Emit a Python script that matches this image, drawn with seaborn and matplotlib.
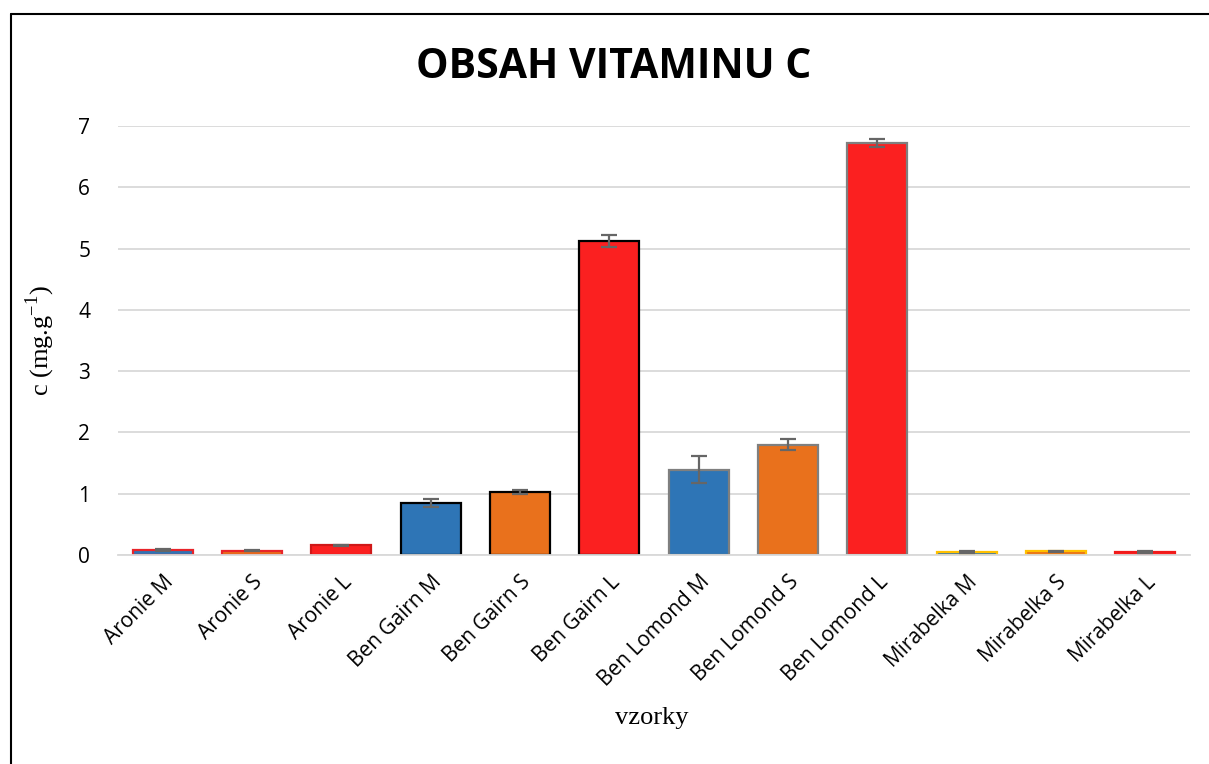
import matplotlib
matplotlib.use("Agg")
import matplotlib.pyplot as plt
from matplotlib.lines import Line2D
import seaborn as sns
import pandas as pd

# Vitamin C content per sample (mg/g) with standard deviations
samples = ["Aronie M", "Aronie S", "Aronie L",
           "Ben Gairn M", "Ben Gairn S", "Ben Gairn L",
           "Ben Lomond M", "Ben Lomond S", "Ben Lomond L",
           "Mirabelka M", "Mirabelka S", "Mirabelka L"]
values = [0.08, 0.07, 0.16, 0.85, 1.03, 5.12, 1.39, 1.80, 6.72, 0.05, 0.06, 0.05]
errors = [0.01, 0.01, 0.01, 0.06, 0.03, 0.10, 0.22, 0.09, 0.07, 0.01, 0.01, 0.01]

BLUE = "#2E75B6"
ORANGE = "#E9711C"
RED = "#FB2020"
fills = [BLUE, ORANGE, RED] * 4
edges = ["#E8242A", "#E8242A", "#D01818",
         "#000000", "#000000", "#000000",
         "#7F7F7F", "#7F7F7F", "#7F7F7F",
         "#FFC000", "#FFC000", "#F01A1A"]

df = pd.DataFrame({"vzorek": samples, "c": values})

sns.set_theme(style="white")
plt.rcParams["mathtext.fontset"] = "custom"
plt.rcParams["mathtext.rm"] = "Liberation Serif"
plt.rcParams["text.color"] = "black"

fig = plt.figure(figsize=(12.09, 7.64), dpi=100)
ax = fig.add_axes([118 / 1209, 1 - 555 / 764, (1190 - 118) / 1209, (555 - 126) / 764])

sns.barplot(data=df, x="vzorek", y="c", hue="vzorek", palette=fills,
            legend=False, width=0.67, ax=ax, errorbar=None, saturation=1)

for patch, ec in zip(ax.patches, edges):
    patch.set_edgecolor(ec)
    patch.set_linewidth(1.6)

ax.errorbar(range(len(samples)), values, yerr=errors, fmt="none",
            ecolor="#666666", elinewidth=1.6, capsize=6, capthick=1.6, zorder=5)

ax.set_xlim(-0.5, len(samples) - 0.5)
ax.set_ylim(0, 7)
ax.set_yticks(range(0, 8))
ax.yaxis.grid(True, color="#D9D9D9", linewidth=1.3)
ax.set_axisbelow(True)
for side in ["top", "right", "left"]:
    ax.spines[side].set_visible(False)
ax.spines["bottom"].set_color("#D9D9D9")
ax.spines["bottom"].set_linewidth(1.3)
ax.tick_params(axis="both", length=0, colors="#000000")
ax.tick_params(axis="x", pad=12)
ax.tick_params(axis="y", pad=20)
ax.set_xticks(range(len(samples)))
ax.set_xticklabels(samples, rotation=45, ha="right", rotation_mode="anchor",
                   fontsize=15, family="Open Sans")
for lbl in ax.get_yticklabels():
    lbl.set_family("Open Sans")
    lbl.set_fontsize(15)

ax.set_xlabel("vzorky", family="Liberation Serif", fontsize=19, color="black")
ax.xaxis.set_label_coords(0.498, -0.355)
ax.set_ylabel("c (mg.g$^{-1}$)", family="Liberation Serif", fontsize=19, labelpad=15, color="black")

fig.text(0.508, 1 - 68 / 764, "OBSAH VITAMINU C", ha="center", va="center",
         fontsize=29.5, fontweight="bold", family="Open Sans", color="black")

# outer frame (left and top edges)
fig.add_artist(Line2D([11 / 1209, 11 / 1209], [0, 1 - 14 / 764], color="black", lw=1.5))
fig.add_artist(Line2D([11 / 1209, 1], [1 - 14 / 764, 1 - 14 / 764], color="black", lw=1.5))

fig.savefig("out.png", dpi=100)
